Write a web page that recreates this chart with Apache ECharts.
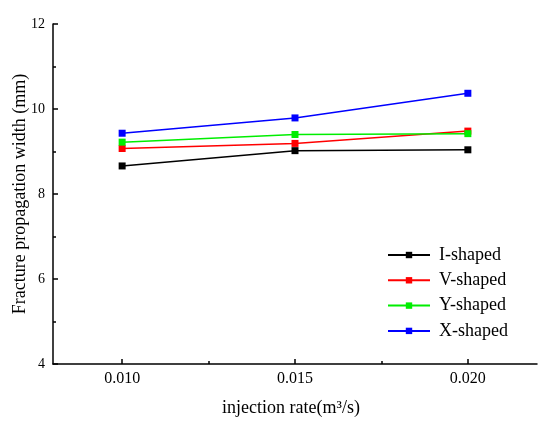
<!DOCTYPE html>
<html>
<head>
<meta charset="utf-8">
<script src="https://cdn.jsdelivr.net/npm/echarts@6/dist/echarts.min.js"></script>
<style>html,body{margin:0;padding:0;background:#fff;}#c{width:550px;height:424px;}</style>
</head>
<body>
<div id="c"></div>
<script>
var rates = [0.010, 0.015, 0.020];
var seriesNames = ['I-shaped', 'V-shaped', 'Y-shaped', 'X-shaped'];
var iShaped = [8.66, 9.02, 9.04];
var vShaped = [9.07, 9.19, 9.48];
var yShaped = [9.22, 9.40, 9.42];
var xShaped = [9.43, 9.79, 10.37];
var majorTicks = [0.010, 0.015, 0.020];
var minorTicks = [0.0125, 0.0175];
var colors = ['#000000', '#ff0000', '#00ee00', '#0000ff'];
var allValues = [iShaped, vShaped, yShaped, xShaped];

var font = 'Liberation Serif';
var chart = echarts.init(document.getElementById('c'));
var series = seriesNames.map(function (n, i) {
  return {
    name: n,
    type: 'line',
    xAxisIndex: 0,
    data: rates.map(function (r, j) { return [r, allValues[i][j]]; }),
    symbol: 'rect',
    symbolSize: 7,
    lineStyle: { color: colors[i], width: 1.5 },
    itemStyle: { color: colors[i] },
    emphasis: { disabled: true },
    animation: false
  };
});
chart.setOption({
  animation: false,
  grid: { left: 53, top: 24, right: 13, bottom: 60, containLabel: false, outerBoundsMode: 'none' },
  legend: {
    orient: 'vertical',
    left: 382,
    top: 241,
    itemWidth: 42,
    itemHeight: 8,
    itemGap: 7.3,
    textStyle: { fontFamily: font, fontSize: 18, color: '#000', padding: [0, 0, 0, 4] },
    data: seriesNames
  },
  xAxis: [{
    type: 'value',
    min: 0.008,
    max: 0.022,
    name: 'injection rate(m³/s)',
    nameLocation: 'middle',
    nameGap: 35,
    nameMoveOverlap: false,
    nameTextStyle: { fontFamily: font, fontSize: 18, color: '#000', padding: [0, 8, 0, 0] },
    axisLine: { lineStyle: { color: '#000', width: 1.5 } },
    axisTick: { inside: true, length: 5, customValues: majorTicks, lineStyle: { color: '#000', width: 1.5 } },
    axisLabel: { customValues: majorTicks, margin: 7, fontFamily: font, fontSize: 16, color: '#000',
      formatter: function (v) { return v.toFixed(3); } },
    splitLine: { show: false }
  }, {
    type: 'value',
    min: 0.008,
    max: 0.022,
    position: 'bottom',
    axisLine: { show: false },
    axisTick: { inside: true, length: 3, customValues: minorTicks, lineStyle: { color: '#000', width: 1.5 } },
    axisLabel: { show: false },
    splitLine: { show: false }
  }],
  yAxis: {
    type: 'value',
    min: 4,
    max: 12,
    interval: 2,
    name: 'Fracture propagation width (mm)',
    nameLocation: 'middle',
    nameGap: 24,
    nameMoveOverlap: false,
    nameTextStyle: { fontFamily: font, fontSize: 18, color: '#000' },
    axisLine: { show: true, lineStyle: { color: '#000', width: 1.5 } },
    axisTick: { show: true, inside: true, length: 5, lineStyle: { color: '#000', width: 1.5 } },
    minorTick: { show: true, splitNumber: 2, length: 3, lineStyle: { color: '#000', width: 1.5 } },
    axisLabel: { margin: 8, fontFamily: font, fontSize: 14, color: '#000' },
    splitLine: { show: false }
  },
  series: series
});
</script>
</body>
</html>
